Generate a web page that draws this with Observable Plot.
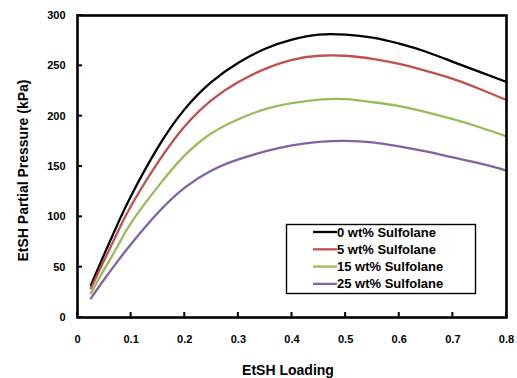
<!DOCTYPE html>
<html>
<head>
<meta charset="utf-8">
<script src="https://cdn.jsdelivr.net/npm/d3@7"></script>
<script src="https://cdn.jsdelivr.net/npm/@observablehq/plot@0.6"></script>
<style>
  html, body { margin: 0; padding: 0; background: #fff; }
  #chart { width: 517px; height: 378px; }
  svg { font-family: "Liberation Sans", Arial, sans-serif; }
</style>
</head>
<body>
<div id="chart"></div>
<script>
// Data
const loading = [0.025, 0.05, 0.075, 0.1, 0.15, 0.2, 0.25, 0.3, 0.35, 0.4, 0.45, 0.5, 0.55, 0.6, 0.65, 0.7, 0.75, 0.8];
const sulfolane0 = [32, 63, 93, 121, 169, 207, 234, 253, 267, 276, 281, 281, 278, 272, 264, 254, 244, 234];
const sulfolane5 = [29, 57, 85, 111, 154, 190, 216, 234, 247, 256, 260, 260, 257, 252, 245, 237, 227, 216];
const sulfolane15 = [24, 48, 71, 94, 130, 161, 183, 197, 207, 213, 216.5, 217, 214, 210, 204, 197, 189, 180];
const sulfolane25 = [19, 38, 56, 73, 104, 129, 146, 157, 165, 171, 174.5, 175.5, 174, 170, 165, 159, 153, 146];
const seriesNames = ["0 wt% Sulfolane", "5 wt% Sulfolane", "15 wt% Sulfolane", "25 wt% Sulfolane"];
const seriesColors = ["#000000", "#c0504d", "#9bbb59", "#8064a2"];
const xTicks = [0, 0.1, 0.2, 0.3, 0.4, 0.5, 0.6, 0.7, 0.8];
const yTicks = [0, 50, 100, 150, 200, 250, 300];

const allSeries = [sulfolane0, sulfolane5, sulfolane15, sulfolane25];
const rows = [];
allSeries.forEach((vals, s) => {
  vals.forEach((v, i) => rows.push({series: seriesNames[s], x: loading[i], y: v}));
});

const W = 517, H = 378, ML = 77, MR = 11, MT = 15, MB = 61;
const tickLen = 5;

const plot = Plot.plot({
  width: W,
  height: H,
  marginLeft: ML,
  marginRight: MR,
  marginTop: MT,
  marginBottom: MB,
  style: {fontFamily: "'Liberation Sans', Arial, sans-serif", background: "#fff"},
  x: {domain: [0, 0.8]},
  y: {domain: [0, 300]},
  color: {domain: seriesNames, range: seriesColors},
  marks: [
    Plot.line(rows, {x: "x", y: "y", z: "series", stroke: "series", strokeWidth: 2.3, curve: "natural"}),
    // tick labels
    Plot.axisX(xTicks, {tickSize: 0, tickPadding: 18, fontSize: 11, fontWeight: "bold", fill: "#000", label: null,
      tickFormat: d => d === 0 ? "0" : String(d)}),
    Plot.axisY(yTicks, {tickSize: 0, tickPadding: 12, fontSize: 11, fontWeight: "bold", fill: "#000", label: null,
      tickFormat: d => String(d)}),
    Plot.frame({stroke: "#000", strokeWidth: 2.6}),
    Plot.text(["EtSH Partial Pressure (kPa)"], {frameAnchor: "left", dx: -54, dy: 4, rotate: -90,
      fontSize: 14, fontWeight: "bold", fill: "#000", textAnchor: "middle", lineAnchor: "middle"}),
    Plot.text(["EtSH Loading"], {frameAnchor: "bottom", dx: -4, dy: 53,
      fontSize: 14, fontWeight: "bold", fill: "#000", textAnchor: "middle", lineAnchor: "middle"})
  ]
});
document.getElementById("chart").appendChild(plot);

const svg = d3.select(plot);
const sx = plot.scale("x"), sy = plot.scale("y");

// inward tick marks, positioned through Plot's own scales
const tg = svg.append("g").attr("stroke", "#000").attr("stroke-width", 2);
xTicks.forEach(t => {
  const px = sx.apply(t);
  tg.append("line").attr("x1", px).attr("x2", px).attr("y1", H - MB).attr("y2", H - MB - tickLen);
});
yTicks.forEach(t => {
  const py = sy.apply(t);
  tg.append("line").attr("x1", ML).attr("x2", ML + tickLen).attr("y1", py).attr("y2", py);
});

// Legend box inside the plot area
const lg = svg.append("g").attr("class", "legend").attr("text-anchor", "start");
lg.append("rect").attr("x", 286.5).attr("y", 224.5).attr("width", 189).attr("height", 69)
  .attr("fill", "#fff").attr("stroke", "#000").attr("stroke-width", 1.4);
seriesNames.forEach((name, i) => {
  const yy = 232 + i * 17.3;
  lg.append("line").attr("x1", 313).attr("x2", 337).attr("y1", yy).attr("y2", yy)
    .attr("stroke", seriesColors[i]).attr("stroke-width", 2.3);
  lg.append("text").attr("x", 337).attr("y", yy).attr("dy", "0.35em")
    .attr("text-anchor", "start")
    .attr("font-size", 13).attr("font-weight", "bold").attr("fill", "#000")
    .attr("font-family", "'Liberation Sans', Arial, sans-serif").text(name);
});
</script>
</body>
</html>
